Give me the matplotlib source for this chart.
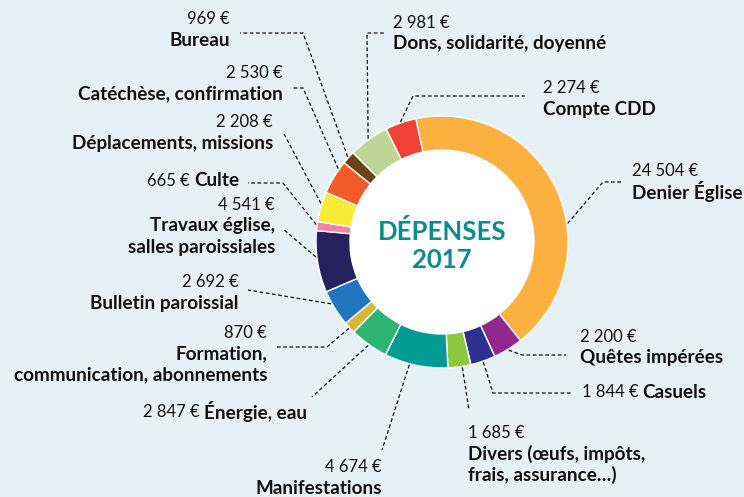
import numpy as np
import matplotlib
matplotlib.use("Agg")
import matplotlib.pyplot as plt
from matplotlib.patches import Circle

plt.rcParams['font.family'] = ['Lato', 'DejaVu Sans']

# data, clockwise from the top
names = ["Denier Église", "Quêtes impérées", "Casuels",
         "Divers (œufs, impôts,\nfrais, assurance…)", "Manifestations",
         "Énergie, eau", "Formation,\ncommunication, abonnements",
         "Bulletin paroissial", "Travaux église,\nsalles paroissiales",
         "Culte", "Déplacements, missions", "Catéchèse, confirmation",
         "Bureau", "Dons, solidarité, doyenné", "Compte CDD"]
values = [24504, 2200, 1844, 1685, 4674, 2847, 870, 2692, 4541,
          665, 2208, 2530, 969, 2981, 2274]
value_labels = ["24 504 €", "2 200 €", "1 844 €", "1 685 €", "4 674 €",
                "2 847 €", "870 €", "2 692 €", "4 541 €", "665 €",
                "2 208 €", "2 530 €", "969 €", "2 981 €", "2 274 €"]
colors = ["#fbb040", "#92278f", "#2e3192", "#8dc63f", "#009b95",
          "#2db573", "#d4b83a", "#1f75be", "#27215f", "#f283a5",
          "#f7ec31", "#f15a29", "#6b4316", "#bdd597", "#ef4136"]

W, H = 744, 497
CX, CY, R_OUT, R_IN = 442, 242, 126, 92

# layout in pixel coords (y from top): x, y of first line, align, inline,
# leader elbow points, where on the wedge the leader lands (0 = clockwise end)
layout = [
    (632, 171, "left", False, [(603, 182), (622, 182)], 0.39),
    (580, 337, "left", False, [(522, 355), (566, 355)], 0.5),
    (582, 392, "left", True, [(493, 393), (571, 393)], 0.5),
    (468, 433, "left", False, [(469, 410)], 0.62),
    (382, 467, "right", False, [(382, 450)], 0.4),
    (307, 412, "right", True, [(312, 397)], 0.5),
    (267, 333, "right", False, [(327, 347), (275, 347)], 0.5),
    (239, 282, "right", False, [(248, 290)], 0.35),
    (275, 205, "right", False, [(283, 229)], 0.42),
    (239, 181, "right", True, [(283, 183), (248, 183)], 0.35),
    (273, 122, "right", False, [(283, 132)], 0.4),
    (283, 73, "right", False, [(303, 88), (292, 88)], 0.24),
    (230, 19, "right", False, [(303, 33), (240, 33)], 0.5),
    (393, 23, "left", False, [(367, 33), (385, 33)], 0.5),
    (543, 88, "left", False, [(413, 96), (525, 96)], 0.5),
]


def Y(y):
    return H - y


fig = plt.figure(figsize=(W / 100, H / 100), dpi=100)
fig.patch.set_facecolor("#e5f1f4")
ax = fig.add_axes([0, 0, 1, 1])

wedges, _ = ax.pie(values, colors=colors, startangle=102, counterclock=False,
                   center=(CX, Y(CY)), radius=R_OUT,
                   wedgeprops=dict(width=R_OUT - R_IN, edgecolor="white",
                                   linewidth=1.0))
ax.add_patch(Circle((CX, Y(CY)), R_IN, facecolor="white", edgecolor="none"))
ax.set_xlim(0, W)
ax.set_ylim(0, H)
ax.set_aspect("auto")
ax.axis("off")

ax.text(CX, Y(232), "DÉPENSES", ha="center", va="center", fontsize=18.5,
        fontweight="bold", color="#0c8a8c")
ax.text(CX, Y(260), "2017", ha="center", va="center", fontsize=18.5,
        fontweight="bold", color="#0c8a8c")

fs, fs_b = 12, 13.6
ink = "#111111"
for w, name, val, (x, y, ha, inline, pts, frac) in zip(wedges, names, value_labels, layout):
    ang = np.deg2rad(w.theta1 + (w.theta2 - w.theta1) * frac)
    sx = w.center[0] + (R_OUT + 1) * np.cos(ang)
    sy = w.center[1] + (R_OUT + 1) * np.sin(ang)
    px = [sx] + [p[0] for p in pts]
    py = [sy] + [Y(p[1]) for p in pts]
    ax.plot(px, py, color=ink, lw=0.9, ls=(0, (3, 2)))

    if inline:
        if ha == "right":
            t = ax.text(x, Y(y), name, ha="right", va="center", fontsize=fs_b,
                        fontweight="bold", color=ink)
            ax.annotate(val, xy=(0, 0.5), xycoords=t, xytext=(-4, 0),
                        textcoords="offset pixels", ha="right", va="center",
                        fontsize=fs, color=ink)
        else:
            t = ax.text(x, Y(y), val, ha="left", va="center", fontsize=fs,
                        color=ink)
            ax.annotate(name, xy=(1, 0.5), xycoords=t, xytext=(4, 0),
                        textcoords="offset pixels", ha="left", va="center",
                        fontsize=fs_b, fontweight="bold", color=ink)
    else:
        ax.text(x, Y(y), val, ha=ha, va="center", fontsize=fs, color=ink)
        for k, line in enumerate(name.split("\n")):
            ax.text(x, Y(y + 21 * (k + 1)), line, ha=ha, va="center",
                    fontsize=fs_b, fontweight="bold", color=ink)

fig.savefig("out.png", dpi=100, facecolor=fig.get_facecolor())
